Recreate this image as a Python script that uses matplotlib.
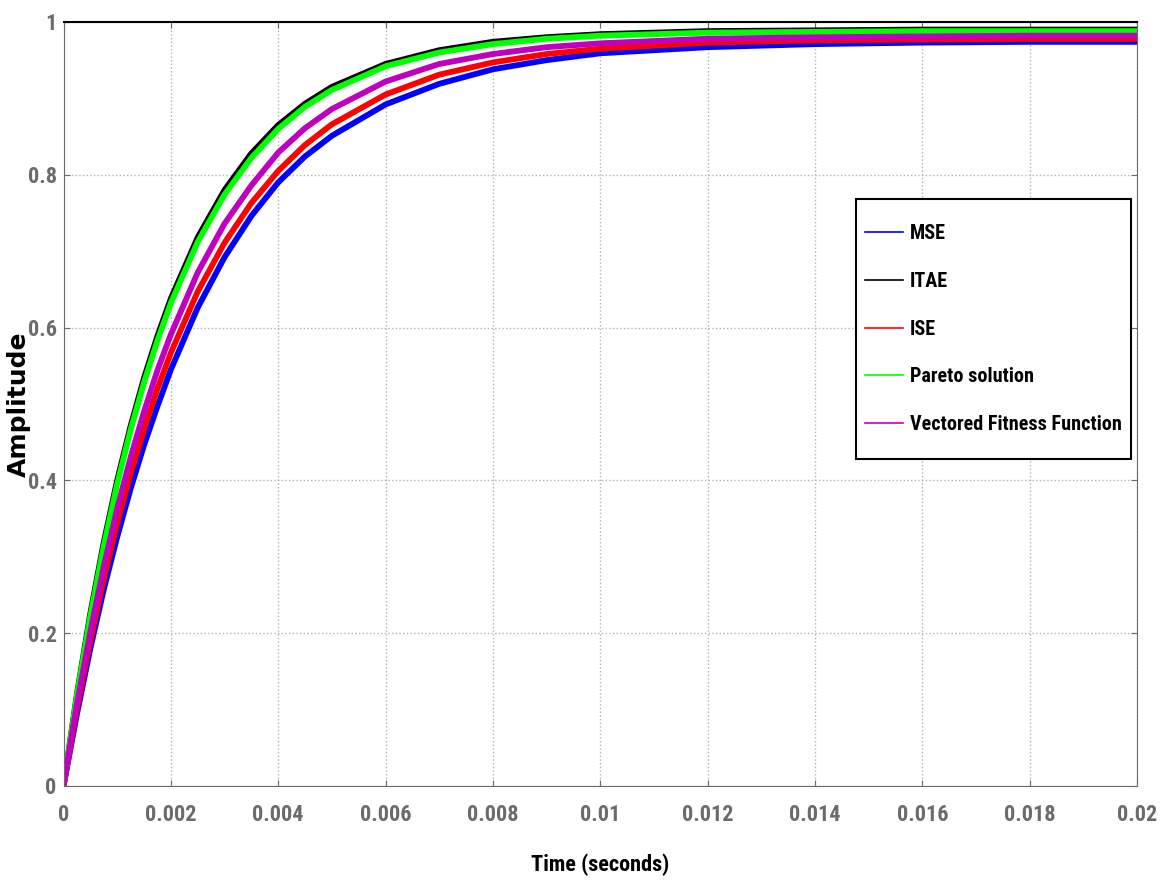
import numpy as np
import matplotlib
matplotlib.use('Agg')
import matplotlib.pyplot as plt
from matplotlib.patches import Rectangle

# step response samples
t = [0, 0.00025, 0.0005, 0.00075, 0.001, 0.00125, 0.0015, 0.00175, 0.002,
     0.0025, 0.003, 0.0035, 0.004, 0.0045, 0.005, 0.006, 0.007, 0.008,
     0.009, 0.01, 0.012, 0.014, 0.016, 0.018, 0.02]

mse = [0, 0.094, 0.180, 0.257, 0.326, 0.389, 0.446, 0.497, 0.545,
       0.626, 0.692, 0.746, 0.790, 0.824, 0.851, 0.892, 0.919, 0.938,
       0.950, 0.959, 0.967, 0.971, 0.973, 0.974, 0.974]
itae = [0, 0.120, 0.226, 0.319, 0.400, 0.471, 0.534, 0.589, 0.638,
        0.718, 0.780, 0.828, 0.865, 0.893, 0.915, 0.945, 0.963, 0.974,
        0.980, 0.984, 0.988, 0.989, 0.990, 0.990, 0.990]
ise = [0, 0.100, 0.190, 0.271, 0.344, 0.409, 0.467, 0.520, 0.567,
       0.647, 0.711, 0.763, 0.805, 0.839, 0.866, 0.905, 0.931, 0.947,
       0.958, 0.965, 0.973, 0.976, 0.977, 0.978, 0.978]
pareto = [0, 0.118, 0.222, 0.314, 0.395, 0.466, 0.528, 0.583, 0.632,
          0.712, 0.774, 0.822, 0.860, 0.889, 0.911, 0.942, 0.960, 0.971,
          0.978, 0.982, 0.986, 0.987, 0.988, 0.988, 0.988]
vff = [0, 0.107, 0.202, 0.287, 0.363, 0.430, 0.490, 0.544, 0.591,
       0.672, 0.736, 0.786, 0.829, 0.861, 0.886, 0.922, 0.945, 0.958,
       0.967, 0.972, 0.978, 0.980, 0.981, 0.982, 0.982]

labels = ['MSE', 'ITAE', 'ISE', 'Pareto solution', 'Vectored Fitness Function']
colors = ['#0000ff', '#000000', '#ff0000', '#00ff00', '#bf00bf']

xticks = [0, 0.002, 0.004, 0.006, 0.008, 0.01, 0.012, 0.014, 0.016, 0.018, 0.02]
xticklabels = ['0', '0.002', '0.004', '0.006', '0.008', '0.01', '0.012',
               '0.014', '0.016', '0.018', '0.02']
yticks = [0, 0.2, 0.4, 0.6, 0.8, 1]
yticklabels = ['0', '0.2', '0.4', '0.6', '0.8', '1']

narrow = ['Roboto Condensed', 'Liberation Sans', 'DejaVu Sans']
grey = '#6b6b6b'

fig = plt.figure(figsize=(11.61, 8.85), dpi=100)
ax = fig.add_axes([0.0547, 0.1119, 0.9246, 0.8633])

for ys, lab, col in zip([mse, itae, ise, pareto, vff], labels, colors):
	ax.plot(t, ys, color=col, lw=4.2, label=lab, solid_joinstyle='round')

ax.set_xlim(0, 0.02)
ax.set_ylim(0, 1)
ax.set_xticks(xticks)
ax.set_xticklabels(xticklabels, family=narrow, weight='bold', size=16, color=grey)
ax.set_yticks(yticks)
ax.set_yticklabels(yticklabels, family=narrow, weight='bold', size=16, color=grey)
ax.tick_params(direction='in', length=4, top=True, right=True, color=grey)
ax.tick_params(axis='x', pad=13)
ax.tick_params(axis='y', pad=5)
ax.grid(True, color='#b4b4b4', linestyle=':', lw=1)

for s in ['bottom', 'left', 'right']:
	ax.spines[s].set_color(grey)
ax.spines['top'].set_color('black')
ax.spines['top'].set_linewidth(1.5)

ax.set_xlabel('Time (seconds)', family=narrow, weight='bold', size=16, labelpad=20)
fig.text(0.0164, 0.5435, 'Amplitude', rotation=90, family='DejaVu Sans',
	weight='bold', size=18, ha='center', va='center')

# legend box (MATLAB style), text placed inside
box = Rectangle((0.738, 0.428), 0.2564, 0.34, transform=ax.transAxes,
	facecolor='white', edgecolor='black', lw=1.5, zorder=4.5)
ax.add_patch(box)
leg = ax.legend(loc='center', bbox_to_anchor=(0.866, 0.598), frameon=False,
	borderaxespad=0, handlelength=1.9, handletextpad=0.35, labelspacing=1.43,
	borderpad=0, prop={'family': narrow, 'weight': 'bold', 'size': 14.5})
leg.set_zorder(5)
for h in leg.get_lines():
	h.set_linewidth(1.2)

fig.savefig('out.png', dpi=100)
